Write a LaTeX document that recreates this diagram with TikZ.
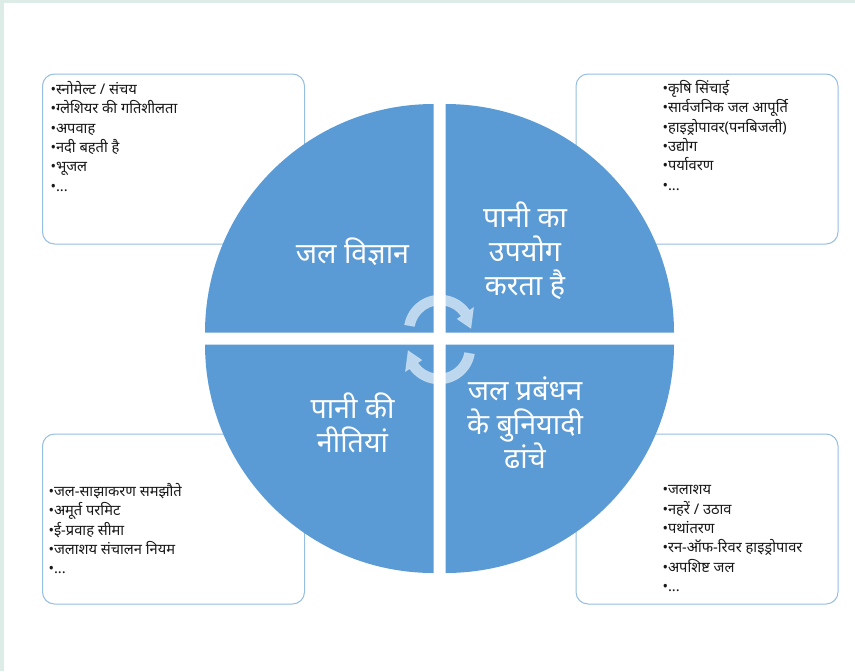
\documentclass[tikz,border=0pt]{standalone}
\usepackage{fontspec}
\newfontfamily\deva[Script=Devanagari]{Noto Sans}
\definecolor{quadblue}{RGB}{91,155,213}
\definecolor{boxline}{RGB}{150,190,225}
\definecolor{framegreen}{RGB}{221,236,231}
\definecolor{listink}{RGB}{25,25,25}
\tikzset{every picture/.style={line width=0.75pt}}

\begin{document}
\begin{tikzpicture}[x=0.75pt,y=0.75pt,yscale=-1,xscale=1,
  infobox/.style={draw=boxline, fill=white, rounded corners=9pt, minimum width=196.5pt, minimum height=127.5pt, inner sep=0pt},
  quad/.style={fill=quadblue},
  quadlabel/.style={text=white, align=center, font=\deva\fontsize{21.5}{25.5}\selectfont, inner sep=0pt},
  listtext/.style={text=listink, align=left, anchor=north west, font=\deva\fontsize{11}{14.5}\selectfont, inner sep=0pt},
  cyclearrow/.style={fill=white, fill opacity=0.6, draw=white, draw opacity=0.3, line width=0.5pt}
]
\useasboundingbox (0,0) rectangle (855,671);

%Shape: Frame
\fill[framegreen] (0,0) rectangle (855,3);
\fill[framegreen] (0,0) rectangle (4,671);

%Shape: Rounded Rectangles
\node[infobox] (hydbox) at (173.5,159) {};
\node[infobox] (usebox) at (707,159) {};
\node[infobox] (polbox) at (173.5,519) {};
\node[infobox] (infbox) at (707,519) {};

%Shape: Quarter Sectors
\fill[quad] (433.5,332.5) -- ++(180:228.5) arc[start angle=180, end angle=270, radius=228.5] -- cycle;
\fill[quad] (445.5,332.5) -- ++(270:228.5) arc[start angle=270, end angle=360, radius=228.5] -- cycle;
\fill[quad] (445.5,344.5) -- ++(0:228.5) arc[start angle=0, end angle=90, radius=228.5] -- cycle;
\fill[quad] (433.5,344.5) -- ++(90:228.5) arc[start angle=90, end angle=180, radius=228.5] -- cycle;

%Shape: Circular Arrows
\begin{scope}[shift={(440,331)}]
\path[cyclearrow] (190:26) -- (190:36) arc[start angle=190, end angle=325, radius=36] -- (325:41) -- (355:31) -- (325:21) -- (325:26) arc[start angle=325, end angle=190, radius=26] -- cycle;
\end{scope}
\begin{scope}[shift={(439,348)}]
\path[cyclearrow] (10:26) -- (10:36) arc[start angle=10, end angle=145, radius=36] -- (145:41) -- (175:31) -- (145:21) -- (145:26) arc[start angle=145, end angle=10, radius=26] -- cycle;
\end{scope}

% Text Node
\node[quadlabel] (hydro) at (352.5,252) {जल विज्ञान};
% Text Node
\node[quadlabel] (wateruse) at (525,251) {पानी का\\उपयोग\\करता है};
% Text Node
\node[quadlabel] (policy) at (352.5,423) {पानी की\\नीतियां};
% Text Node
\node[quadlabel] (infra) at (525,423) {जल प्रबंधन\\के बुनियादी\\ढांचे};

% Text Node
\node[listtext] (hydlist) at (50,81) {•स्नोमेल्ट / संचय\\•ग्लेशियर की गतिशीलता\\•अपवाह\\•नदी बहती है\\•भूजल\\•...};
% Text Node
\node[listtext] (uselist) at (662,80) {•कृषि सिंचाई\\•सार्वजनिक जल आपूर्ति\\•हाइड्रोपावर(पनबिजली)\\•उद्योग\\•पर्यावरण\\•...};
% Text Node
\node[listtext] (pollist) at (48,483) {•जल-साझाकरण समझौते\\•अमूर्त परमिट\\•ई-प्रवाह सीमा\\•जलाशय संचालन नियम\\•...};
% Text Node
\node[listtext] (inflist) at (662,485) {•जलाशय\\•नहरें / उठाव\\•पथांतरण\\•रन-ऑफ-रिवर हाइड्रोपावर\\•अपशिष्ट जल\\•...};

\end{tikzpicture}
\end{document}
